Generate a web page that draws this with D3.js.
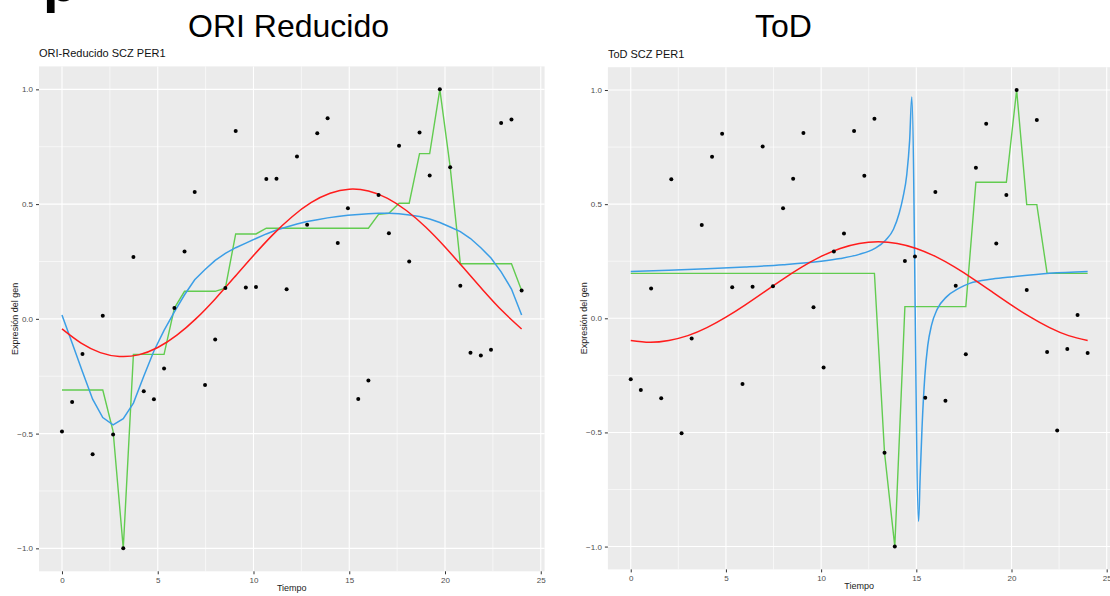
<!DOCTYPE html>
<head>
<meta charset="utf-8">
<title> ORI Reducido vs ToD </title>
<script src="https://cdn.jsdelivr.net/npm/d3@7"></script>
<style>
body { margin: 0; background: #fff; }
svg { display: block; font-family: "Liberation Sans", Arial, sans-serif; }
.tick text { fill: #4d4d4d; font-size: 8px; }
.tick line { stroke: #333; }
.domain { display: none; }
</style>
</head>

<body>
<script>
// sampling times (hours), shared by both panels
var tiempos = [0, 0.53, 1.07, 1.6, 2.13, 2.67, 3.2, 3.73, 4.27, 4.8, 5.33, 5.87, 6.4, 6.93, 7.47, 8,
  8.53, 9.07, 9.6, 10.13, 10.67, 11.2, 11.73, 12.27, 12.8, 13.33, 13.87, 14.4, 14.93, 15.47, 16,
  16.53, 17.07, 17.6, 18.13, 18.67, 19.2, 19.73, 20.27, 20.8, 21.33, 21.87, 22.4, 22.93, 23.47, 24];

// ORI Reducido: observed expression
var oriPuntos = [-0.491, -0.362, -0.153, -0.59, 0.014, -0.504, -1.0, 0.27, -0.315, -0.35, -0.216, 0.047,
  0.293, 0.553, -0.288, -0.09, 0.134, 0.819, 0.137, 0.139, 0.609, 0.611, 0.129, 0.707, 0.41, 0.809,
  0.874, 0.33, 0.482, -0.349, -0.269, 0.54, 0.373, 0.754, 0.25, 0.812, 0.625, 1.0, 0.661, 0.144,
  -0.148, -0.16, -0.135, 0.853, 0.869, 0.123];
// ORI Reducido: green fit (step like)
var oriVerde = [-0.31, -0.31, -0.31, -0.31, -0.31, -0.49, -1.0, -0.155, -0.155, -0.155, -0.155, 0.047,
  0.12, 0.12, 0.12, 0.12, 0.134, 0.37, 0.37, 0.37, 0.395, 0.395, 0.395, 0.395, 0.395, 0.395,
  0.395, 0.395, 0.395, 0.395, 0.395, 0.455, 0.46, 0.504, 0.504, 0.72, 0.72, 1.0, 0.661, 0.24,
  0.24, 0.24, 0.24, 0.24, 0.24, 0.123];
// ORI Reducido: blue fit
var oriAzul = [0.017, -0.105, -0.23, -0.35, -0.43, -0.462, -0.435, -0.367, -0.25, -0.14, -0.05, 0.03,
  0.105, 0.17, 0.215, 0.255, 0.285, 0.31, 0.33, 0.35, 0.37, 0.387, 0.4, 0.413, 0.424, 0.432,
  0.44, 0.446, 0.451, 0.455, 0.458, 0.46, 0.46, 0.458, 0.453, 0.446, 0.435, 0.42, 0.4, 0.38,
  0.35, 0.31, 0.265, 0.205, 0.13, 0.017];
// ORI Reducido: red cosinor curve, read at each hour
var horas = [0, 1, 2, 3, 4, 5, 6, 7, 8, 9, 10, 11, 12, 13, 14, 15, 16, 17, 18, 19, 20, 21, 22, 23, 24];
var oriRojo = [-0.044, -0.106, -0.147, -0.164, -0.157, -0.125, -0.071, 0.001, 0.087, 0.181, 0.276,
  0.366, 0.444, 0.506, 0.547, 0.565, 0.557, 0.525, 0.471, 0.399, 0.313, 0.219, 0.124, 0.034, -0.044];

// ToD: observed expression
var todPuntos = [-0.267, -0.314, 0.131, -0.35, 0.609, -0.504, -0.089, 0.409, 0.708, 0.809, 0.136, -0.288,
  0.138, 0.753, 0.14, 0.482, 0.611, 0.812, 0.048, -0.216, 0.293, 0.372, 0.82, 0.625, 0.874,
  -0.589, -1.0, 0.251, 0.271, -0.348, 0.553, -0.361, 0.143, -0.158, 0.66, 0.852, 0.328, 0.54,
  1.0, 0.124, 0.869, -0.148, -0.491, -0.134, 0.014, -0.152];
// ToD: green fit
var todVerde = [0.197, 0.197, 0.197, 0.197, 0.197, 0.197, 0.197, 0.197, 0.197, 0.197, 0.197, 0.197,
  0.197, 0.197, 0.197, 0.197, 0.197, 0.197, 0.197, 0.197, 0.197, 0.197, 0.197, 0.197, 0.197,
  -0.589, -1.0, 0.051, 0.051, 0.051, 0.051, 0.051, 0.051, 0.051, 0.596, 0.596, 0.596, 0.596,
  1.0, 0.498, 0.498, 0.197, 0.197, 0.197, 0.197, 0.197];
// ToD: red cosinor curve, read at each hour
var todRojo = [-0.097, -0.105, -0.097, -0.076, -0.041, 0.005, 0.058, 0.115, 0.172, 0.225, 0.271,
  0.306, 0.328, 0.335, 0.328, 0.306, 0.271, 0.225, 0.172, 0.115, 0.058, 0.005, -0.041, -0.076, -0.097];
// ToD: blue curve, with a pole near t = 15
var todAzulT = [0, 2, 4, 6, 8, 10, 11, 12, 12.8, 13.4, 13.8, 14.1, 14.3, 14.5, 14.65, 14.76,
  15.12, 15.2, 15.3, 15.45, 15.6, 15.8, 16.1, 16.6, 17.2, 17.8, 19, 20.1, 22, 24];
var todAzulY = [0.205, 0.21, 0.217, 0.225, 0.235, 0.25, 0.262, 0.28, 0.305, 0.343, 0.39, 0.46, 0.53,
  0.63, 0.78, 0.97, -0.89, -0.7, -0.48, -0.25, -0.12, -0.03, 0.04, 0.095, 0.13, 0.153, 0.172,
  0.182, 0.197, 0.205];

var xTicks = [0, 5, 10, 15, 20, 25];
var yTicks = [-1, -0.5, 0, 0.5, 1];

var rojo = "#ff1c1c", azul = "#3b9ee6", verde = "#62cc50";

var svg = d3.select("body").append("svg")
  .attr("width", 1110)
  .attr("height", 596);

// cut off letter from the slide heading
svg.append("text")
  .attr("x", 43).attr("y", 1)
  .attr("font-size", "56px").attr("font-weight", "bold")
  .text("p");

svg.append("text").attr("x", 188).attr("y", 37)
  .attr("font-size", "32px").text("ORI Reducido");
svg.append("text").attr("x", 755).attr("y", 37)
  .attr("font-size", "32px").text("ToD");

function zip(a, b) {
  return a.map(function(v, i) { return [v, b[i]]; });
}

function drawPanel(p) {
  var x = d3.scaleLinear().domain([-1.2, 25.2]).range([p.left, p.right]);
  var y = d3.scaleLinear().domain([-1.1, 1.1]).range([p.bottom, p.top]);
  var g = svg.append("g");

  g.append("text").attr("x", p.left).attr("y", p.top - 9)
    .attr("font-size", "11px").attr("fill", "#111").text(p.title);

  g.append("rect").attr("x", p.left).attr("y", p.top)
    .attr("width", p.right - p.left).attr("height", p.bottom - p.top)
    .attr("fill", "#ebebeb");

  // minor grid
  [2.5, 7.5, 12.5, 17.5, 22.5].forEach(function(v) {
    g.append("line").attr("x1", x(v)).attr("x2", x(v)).attr("y1", p.top).attr("y2", p.bottom)
      .attr("stroke", "#fff").attr("stroke-width", 0.6);
  });
  [-0.75, -0.25, 0.25, 0.75].forEach(function(v) {
    g.append("line").attr("y1", y(v)).attr("y2", y(v)).attr("x1", p.left).attr("x2", p.right)
      .attr("stroke", "#fff").attr("stroke-width", 0.6);
  });
  // major grid
  xTicks.forEach(function(v) {
    g.append("line").attr("x1", x(v)).attr("x2", x(v)).attr("y1", p.top).attr("y2", p.bottom)
      .attr("stroke", "#fff").attr("stroke-width", 1.1);
  });
  yTicks.forEach(function(v) {
    g.append("line").attr("y1", y(v)).attr("y2", y(v)).attr("x1", p.left).attr("x2", p.right)
      .attr("stroke", "#fff").attr("stroke-width", 1.1);
  });

  // axes
  g.append("g").attr("class", "axis")
    .attr("transform", "translate(0," + p.bottom + ")")
    .call(d3.axisBottom(x).tickValues(xTicks).tickSize(3).tickPadding(3).tickFormat(d3.format("d")));
  g.append("g").attr("class", "axis")
    .attr("transform", "translate(" + p.left + ",0)")
    .call(d3.axisLeft(y).tickValues(yTicks).tickSize(3).tickPadding(3).tickFormat(d3.format(".1f")));

  g.append("text").attr("x", (p.left + p.right) / 2).attr("y", p.bottom + 20)
    .attr("text-anchor", "middle").attr("font-size", "9px").attr("fill", "#222")
    .text("Tiempo");
  g.append("text")
    .attr("transform", "translate(" + (p.left - 21) + "," + ((p.top + p.bottom) / 2) + ") rotate(-90)")
    .attr("text-anchor", "middle").attr("font-size", "9px").attr("fill", "#222")
    .text("Expresión del gen");

  var plot = g.append("g");

  plot.append("path").datum(zip(tiempos, p.verde))
    .attr("fill", "none").attr("stroke", verde).attr("stroke-width", 1.4)
    .attr("d", d3.line().x(function(d) { return x(d[0]); }).y(function(d) { return y(d[1]); }));

  plot.append("path").datum(p.azul)
    .attr("fill", "none").attr("stroke", azul).attr("stroke-width", 1.5)
    .attr("d", d3.line().curve(p.azulCurve)
      .x(function(d) { return x(d[0]); }).y(function(d) { return y(d[1]); }));

  plot.append("path").datum(zip(horas, p.rojo))
    .attr("fill", "none").attr("stroke", rojo).attr("stroke-width", 1.5)
    .attr("d", d3.line().curve(d3.curveNatural)
      .x(function(d) { return x(d[0]); }).y(function(d) { return y(d[1]); }));

  plot.selectAll("circle").data(zip(tiempos, p.puntos)).enter().append("circle")
    .attr("cx", function(d) { return x(d[0]); })
    .attr("cy", function(d) { return y(d[1]); })
    .attr("r", 2).attr("fill", "#000");
}

drawPanel({
  title: "ORI-Reducido SCZ PER1",
  left: 39, right: 544.6, top: 66.4, bottom: 571.3,
  puntos: oriPuntos, verde: oriVerde, rojo: oriRojo,
  azul: zip(tiempos, oriAzul), azulCurve: d3.curveLinear
});

drawPanel({
  title: "ToD SCZ PER1",
  left: 607.9, right: 1110.5, top: 67.2, bottom: 569.4,
  puntos: todPuntos, verde: todVerde, rojo: todRojo,
  azul: zip(todAzulT, todAzulY), azulCurve: d3.curveMonotoneX
});
</script>
</body>
